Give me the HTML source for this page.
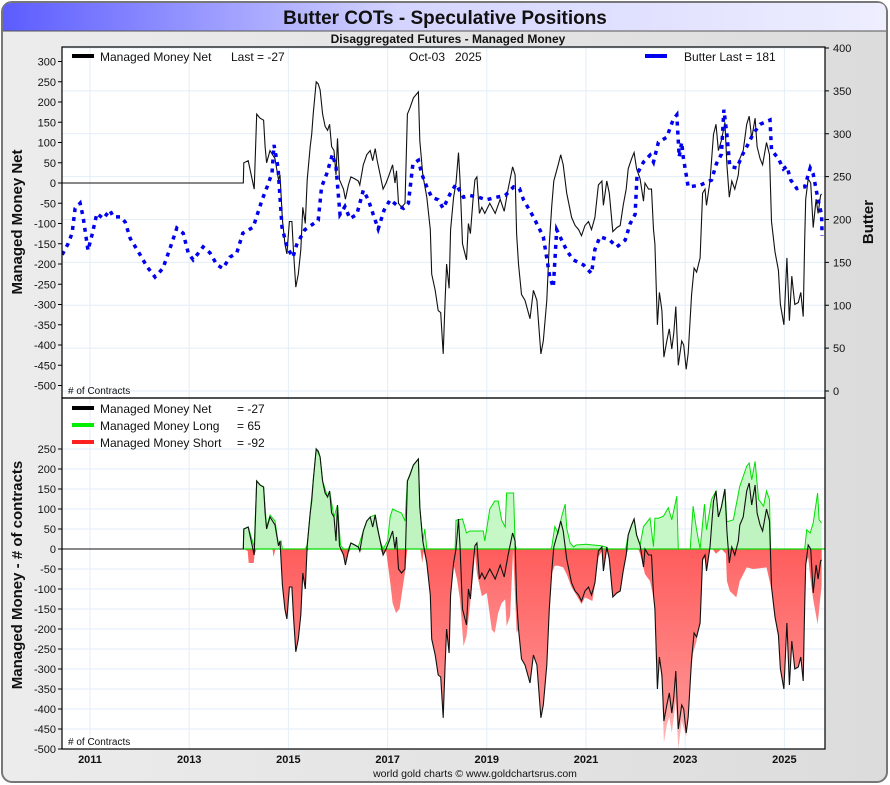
<!DOCTYPE html>
<html><head><meta charset="utf-8">
<style>
html,body{margin:0;padding:0;background:#fff;}
svg{display:block;font-family:"Liberation Sans",sans-serif;}
</style></head>
<body>
<svg id="chart" width="890" height="785" viewBox="0 0 890 785" xmlns="http://www.w3.org/2000/svg">
<defs>
<linearGradient id="frameG" x1="0" x2="1" y1="0" y2="0"><stop offset="0" stop-color="#ececec"/><stop offset="1" stop-color="#dcdcdc"/></linearGradient>
<linearGradient id="titleG" x1="0" x2="1" y1="0" y2="0"><stop offset="0" stop-color="#5c5cff"/><stop offset="0.45" stop-color="#d4d4ff"/><stop offset="1" stop-color="#eeeeff"/></linearGradient>
<linearGradient id="shortG" gradientUnits="userSpaceOnUse" x1="0" x2="0" y1="549" y2="749"><stop offset="0" stop-color="#ff6464"/><stop offset="1" stop-color="#ffb8b8"/></linearGradient>
<linearGradient id="netG" gradientUnits="userSpaceOnUse" x1="0" x2="0" y1="549" y2="749"><stop offset="0" stop-color="#ff5c5c"/><stop offset="1" stop-color="#ff9c9c"/></linearGradient>
<clipPath id="topClip"><rect x="62" y="47" width="763" height="351"/></clipPath>
<clipPath id="botClip"><rect x="62" y="398" width="763" height="351"/></clipPath>
</defs>
<rect x="2" y="2" width="885" height="780" rx="10" fill="url(#frameG)" stroke="#777" stroke-width="2"/>
<path d="M3,31 L3,12 Q3,3 12,3 L878,3 Q886,3 886,12 L886,31 Z" fill="url(#titleG)"/>
<line x1="3" y1="31" x2="886" y2="31" stroke="#555" stroke-width="1"/>
<text x="445" y="24" text-anchor="middle" font-size="19" font-weight="bold" fill="#111">Butter COTs - Speculative Positions</text>
<text x="448" y="43" text-anchor="middle" font-size="12" font-weight="bold" fill="#111">Disaggregated Futures - Managed Money</text>
<rect x="62" y="47" width="763" height="702" fill="#fff"/>
<g id="grid"></g>
<g id="topPanel" clip-path="url(#topClip)"></g>
<g id="botPanel" clip-path="url(#botClip)"></g>
<g id="axes"></g>
<rect x="62" y="47" width="763" height="351" fill="none" stroke="#000" stroke-width="1.2"/>
<rect x="62" y="398" width="763" height="351" fill="none" stroke="#000" stroke-width="1.2"/>
<text transform="translate(22,222) rotate(-90)" text-anchor="middle" font-size="15" font-weight="bold" fill="#111">Managed Money Net</text>
<text transform="translate(873,222) rotate(-90)" text-anchor="middle" font-size="15" font-weight="bold" fill="#111">Butter</text>
<text transform="translate(22,575) rotate(-90)" text-anchor="middle" font-size="15" font-weight="bold" fill="#111">Managed Money - # of contracts</text>
<text x="68" y="394" font-size="10" fill="#111"># of Contracts</text>
<text x="68" y="745" font-size="10" fill="#111"># of Contracts</text>
<text x="475" y="777" text-anchor="middle" font-size="10.5" fill="#111">world gold charts © www.goldchartsrus.com</text>
<g>
<line x1="72" y1="56" x2="94" y2="56" stroke="#000" stroke-width="4"/>
<text x="100" y="61" font-size="12" fill="#111">Managed Money Net</text>
<text x="231" y="61" font-size="12" fill="#111">Last = -27</text>
<text x="409" y="61" font-size="12" fill="#111">Oct-03</text>
<text x="455" y="61" font-size="12" fill="#111">2025</text>
<line x1="645" y1="56" x2="667" y2="56" stroke="#0000ee" stroke-width="4"/>
<text x="684" y="61" font-size="12" fill="#111">Butter Last = 181</text>
</g>
<g>
<line x1="72" y1="408" x2="94" y2="408" stroke="#000" stroke-width="4"/>
<text x="100" y="413" font-size="12" fill="#111">Managed Money Net</text>
<text x="237" y="413" font-size="12" fill="#111">= -27</text>
<line x1="72" y1="425" x2="94" y2="425" stroke="#00ee00" stroke-width="4"/>
<text x="100" y="430" font-size="12" fill="#111">Managed Money Long</text>
<text x="237" y="430" font-size="12" fill="#111">= 65</text>
<line x1="72" y1="442" x2="94" y2="442" stroke="#ff2020" stroke-width="4"/>
<text x="100" y="447" font-size="12" fill="#111">Managed Money Short</text>
<text x="237" y="447" font-size="12" fill="#111">= -92</text>
</g>
</svg>
<script>
// ---- data ----
const yearTicks = [2011,2013,2015,2017,2019,2021,2023,2025];
const leftTicksTop = [300,250,200,150,100,50,0,-50,-100,-150,-200,-250,-300,-350,-400,-450,-500];
const rightTicks = [400,350,300,250,200,150,100,50,0];
const leftTicksBot = [250,200,150,100,50,0,-50,-100,-150,-200,-250,-300,-350,-400,-450,-500];
const netDates = [2010.44,2014.09,2014.10,2014.19,2014.31,2014.36,2014.43,2014.50,2014.53,2014.56,2014.63,2014.73,2014.80,2014.83,2014.88,2014.93,2014.97,2015.02,2015.07,2015.10,2015.15,2015.20,2015.25,2015.29,2015.34,2015.38,2015.44,2015.47,2015.50,2015.56,2015.60,2015.64,2015.69,2015.74,2015.79,2015.83,2015.87,2015.92,2015.96,2015.99,2016.03,2016.11,2016.15,2016.21,2016.26,2016.34,2016.41,2016.44,2016.51,2016.58,2016.65,2016.70,2016.75,2016.79,2016.85,2016.91,2016.97,2017.03,2017.10,2017.15,2017.18,2017.22,2017.28,2017.35,2017.40,2017.45,2017.52,2017.62,2017.65,2017.71,2017.79,2017.86,2017.89,2017.96,2018.02,2018.07,2018.12,2018.16,2018.19,2018.24,2018.27,2018.33,2018.38,2018.43,2018.46,2018.51,2018.56,2018.59,2018.63,2018.67,2018.72,2018.76,2018.80,2018.85,2018.90,2018.96,2019.06,2019.17,2019.27,2019.35,2019.43,2019.52,2019.57,2019.60,2019.64,2019.70,2019.77,2019.87,2019.94,2020.01,2020.09,2020.14,2020.21,2020.26,2020.31,2020.35,2020.44,2020.49,2020.54,2020.61,2020.71,2020.78,2020.85,2020.91,2020.98,2021.05,2021.11,2021.18,2021.25,2021.32,2021.35,2021.42,2021.47,2021.54,2021.62,2021.69,2021.75,2021.81,2021.85,2021.92,2021.97,2022.02,2022.09,2022.16,2022.19,2022.26,2022.32,2022.36,2022.39,2022.44,2022.48,2022.53,2022.57,2022.63,2022.68,2022.73,2022.77,2022.81,2022.86,2022.93,2022.97,2023.02,2023.06,2023.13,2023.18,2023.23,2023.30,2023.35,2023.40,2023.43,2023.50,2023.57,2023.62,2023.67,2023.73,2023.80,2023.84,2023.89,2023.94,2024.00,2024.07,2024.10,2024.17,2024.24,2024.29,2024.34,2024.41,2024.45,2024.51,2024.56,2024.64,2024.70,2024.74,2024.81,2024.88,2024.92,2024.99,2025.05,2025.10,2025.15,2025.21,2025.28,2025.33,2025.38,2025.41,2025.43,2025.48,2025.53,2025.58,2025.64,2025.68,2025.73,2025.75];
const netValues = [0,0,50,55,-15,170,160,155,90,50,80,60,8,20,-90,-150,-175,-95,-95,-165,-257,-225,-165,-60,-100,8,90,120,170,250,245,230,170,140,130,145,90,80,20,110,8,-15,-40,-5,15,10,5,-5,45,70,80,55,85,55,20,-15,0,20,45,0,30,-50,-60,-50,170,185,210,225,105,20,-35,-115,-225,-265,-315,-320,-422,-290,-200,-260,-115,-35,0,75,8,-150,-175,-190,-100,-125,-45,8,15,-75,-60,-75,-50,-75,-40,-70,-15,40,20,-125,-200,-275,-290,-335,-265,-290,-422,-390,-290,-150,-55,5,45,70,45,-25,-85,-105,-115,-130,-105,-95,-115,-85,-5,5,-55,5,-25,-120,-110,-105,-55,-15,35,60,75,35,10,-45,0,-15,-15,-115,-150,-350,-270,-315,-430,-390,-360,-410,-370,-305,-450,-390,-400,-460,-420,-275,-210,-220,-185,-25,-15,-55,5,120,145,80,105,150,45,-35,5,-15,20,60,80,145,165,110,160,90,60,45,100,70,-95,-170,-215,-300,-350,-185,-340,-230,-300,-295,-270,-330,-140,-40,10,0,-110,-40,-75,-30,-27];
const longDates = [2014.09,2014.10,2014.19,2014.31,2014.36,2014.43,2014.50,2014.56,2014.63,2014.73,2014.80,2014.85,2014.88,2015.34,2015.38,2015.44,2015.50,2015.56,2015.64,2015.69,2015.79,2015.83,2015.92,2015.99,2016.05,2016.11,2016.21,2016.26,2016.41,2016.51,2016.58,2016.65,2016.75,2016.85,2016.91,2017.00,2017.05,2017.10,2017.18,2017.28,2017.35,2017.40,2017.52,2017.62,2017.65,2017.71,2017.75,2017.79,2018.36,2018.38,2018.51,2018.59,2018.66,2018.93,2018.96,2019.06,2019.16,2019.23,2019.30,2019.37,2019.40,2019.54,2019.57,2019.60,2020.29,2020.31,2020.37,2020.44,2020.51,2020.58,2020.61,2020.68,2020.75,2020.80,2021.00,2021.15,2021.30,2021.40,2021.45,2021.80,2021.85,2021.92,2021.97,2022.02,2022.09,2022.16,2022.29,2022.36,2022.39,2022.46,2022.56,2022.66,2022.73,2022.83,2022.86,2023.10,2023.16,2023.23,2023.30,2023.39,2023.43,2023.53,2023.62,2023.67,2023.73,2023.80,2023.84,2023.97,2024.10,2024.24,2024.29,2024.34,2024.41,2024.48,2024.58,2024.64,2024.70,2024.72,2025.41,2025.45,2025.52,2025.58,2025.67,2025.70,2025.75];
const longValues = [0,50,55,5,170,160,155,55,85,70,10,20,0,0,10,90,170,250,230,170,130,145,80,110,10,0,0,15,5,45,70,80,85,20,0,20,80,100,95,90,70,170,210,225,105,20,50,0,0,72,75,40,45,45,20,100,120,120,72,55,140,140,10,0,0,6,56,40,82,112,52,15,5,10,12,10,8,5,0,0,35,60,75,35,10,56,77,6,77,77,82,103,73,132,0,0,107,48,0,112,48,124,145,80,105,150,68,73,157,207,215,173,219,124,107,145,124,0,0,48,40,65,140,73,65];
const shortDates = [2014.09,2014.18,2014.20,2014.30,2014.33,2014.68,2014.70,2014.74,2014.85,2014.88,2014.93,2014.97,2015.02,2015.07,2015.10,2015.15,2015.20,2015.25,2015.29,2015.34,2015.38,2015.42,2016.06,2016.11,2016.15,2016.21,2016.26,2016.88,2016.91,2016.97,2017.05,2017.10,2017.17,2017.24,2017.30,2017.36,2017.38,2017.66,2017.70,2017.73,2017.79,2017.86,2017.89,2017.96,2018.02,2018.07,2018.12,2018.16,2018.19,2018.24,2018.27,2018.33,2018.40,2018.46,2018.53,2018.59,2018.66,2018.73,2018.76,2018.80,2018.90,2019.00,2019.10,2019.16,2019.23,2019.30,2019.37,2019.40,2019.47,2019.53,2019.60,2019.64,2019.70,2019.77,2019.87,2019.94,2020.01,2020.09,2020.14,2020.21,2020.26,2020.31,2020.37,2020.44,2020.54,2020.61,2020.71,2020.78,2020.91,2020.98,2021.13,2021.18,2021.25,2021.32,2021.35,2021.42,2021.47,2021.54,2021.62,2021.69,2021.75,2021.81,2021.85,2022.05,2022.09,2022.19,2022.29,2022.36,2022.39,2022.44,2022.48,2022.53,2022.57,2022.63,2022.68,2022.73,2022.77,2022.81,2022.86,2022.93,2023.02,2023.09,2023.16,2023.23,2023.30,2023.35,2023.40,2023.48,2023.55,2023.62,2023.73,2023.82,2023.84,2023.90,2024.03,2024.10,2024.24,2024.37,2024.64,2024.72,2024.74,2024.81,2024.88,2024.92,2024.99,2025.05,2025.10,2025.15,2025.21,2025.28,2025.33,2025.38,2025.41,2025.43,2025.48,2025.53,2025.58,2025.67,2025.75];
const shortValues = [0,-5,-35,-35,0,0,-20,0,0,-90,-150,-175,-95,-95,-165,-257,-225,-165,-60,-100,-5,0,0,-15,-40,-10,0,0,-15,-5,-81,-135,-160,-150,-100,-50,0,0,-35,0,-35,-115,-225,-265,-315,-320,-422,-290,-200,-260,-115,-40,-76,-126,-243,-218,-143,-60,-10,-60,-118,-110,-202,-210,-160,-135,-126,-193,-168,-2,-210,-200,-275,-290,-335,-265,-290,-422,-390,-290,-150,-60,-42,-42,-46,-63,-96,-110,-138,-121,-130,-90,-20,-5,-55,-5,-25,-120,-110,-105,-55,-15,0,0,-12,-63,-80,-120,-160,-350,-280,-330,-485,-440,-420,-460,-420,-380,-500,-430,-470,-343,-260,-230,-143,-30,-21,0,0,-12,0,-12,-80,-105,-121,-80,-46,-50,-46,-90,-100,-170,-215,-300,-350,-185,-340,-230,-300,-295,-270,-330,-140,-40,-20,-80,-126,-188,-92];
const priceDates = [2010.44,2010.56,2010.64,2010.70,2010.80,2010.86,2010.96,2011.04,2011.14,2011.27,2011.40,2011.47,2011.62,2011.71,2011.81,2012.01,2012.15,2012.31,2012.47,2012.61,2012.75,2012.88,2012.98,2013.08,2013.28,2013.42,2013.56,2013.68,2013.82,2013.96,2014.08,2014.29,2014.47,2014.57,2014.67,2014.71,2014.79,2014.87,2014.97,2015.09,2015.17,2015.33,2015.60,2015.67,2015.77,2015.89,2015.96,2016.04,2016.14,2016.24,2016.38,2016.51,2016.61,2016.71,2016.81,2016.93,2017.05,2017.18,2017.32,2017.42,2017.51,2017.62,2017.69,2017.79,2017.89,2018.02,2018.12,2018.26,2018.38,2018.53,2018.66,2018.83,2018.99,2019.20,2019.37,2019.54,2019.66,2019.74,2019.84,2019.94,2020.14,2020.27,2020.34,2020.41,2020.51,2020.61,2020.74,2020.95,2021.11,2021.18,2021.28,2021.48,2021.62,2021.79,2021.89,2021.99,2022.03,2022.16,2022.29,2022.36,2022.46,2022.63,2022.76,2022.83,2022.88,2022.93,2022.96,2023.06,2023.30,2023.53,2023.63,2023.73,2023.78,2023.84,2023.90,2024.04,2024.16,2024.27,2024.37,2024.51,2024.71,2024.74,2024.88,2024.98,2025.05,2025.13,2025.25,2025.41,2025.52,2025.58,2025.68,2025.75,2025.76];
const priceValues = [159,172,184,213,219,203,164,182,207,201,211,203,203,197,178,159,145,133,143,166,190,184,161,153,168,161,147,143,156,161,184,191,223,238,254,287,261,191,168,156,171,188,199,238,253,276,261,206,215,201,206,234,223,206,189,211,223,217,213,219,265,269,253,238,226,223,213,230,241,226,228,226,223,226,228,238,236,223,213,203,180,133,121,188,176,164,153,147,137,165,180,176,168,176,195,206,253,267,275,267,290,296,317,322,273,290,273,238,240,246,265,276,328,299,262,260,276,288,300,311,316,281,271,259,262,246,236,238,260,253,223,205,181];

// ---- scales ----
const X = t => 90 + (t - 2011) * 49.6;
const YL = v => 183 - v * 0.405;
const YR = v => 391 - v * 0.8575;
const YB = v => 549 - v * 0.4;
const NS = 'http://www.w3.org/2000/svg';
function mk(tag, attrs, parent){ const e=document.createElementNS(NS,tag); for(const k in attrs) e.setAttribute(k,attrs[k]); parent.appendChild(e); return e; }
const gridG=document.getElementById('grid'), topG=document.getElementById('topPanel'), botG=document.getElementById('botPanel'), axesG=document.getElementById('axes');

// grid
rightTicks.forEach(v=>{ const l=mk('line',{x1:62,x2:825,y1:YR(v),y2:YR(v),stroke:'#e2eef8','stroke-width':1},gridG);

 });
leftTicksBot.forEach(v=>{ const l=mk('line',{x1:62,x2:825,y1:YB(v),y2:YB(v),stroke:'#e2eef8','stroke-width':1},gridG);

 });
yearTicks.forEach(t=>{ const l=mk('line',{x1:X(t),x2:X(t),y1:47,y2:749,stroke:'#e2eef8','stroke-width':1},gridG);

 });

// axes labels
leftTicksTop.forEach(v=>{ const y=YL(v);
 mk('line',{x1:58,x2:62,y1:y,y2:y,stroke:'#000'},axesG);
 const t=mk('text',{x:56,y:y+4,'text-anchor':'end','font-size':11,fill:'#111'},axesG); t.textContent=v;
 
  });
rightTicks.forEach(v=>{ const y=YR(v);
 mk('line',{x1:825,x2:829,y1:y,y2:y,stroke:'#000'},axesG);
 const t=mk('text',{x:833,y:y+4,'font-size':11,fill:'#111'},axesG); t.textContent=v;
 
  });
leftTicksBot.forEach(v=>{ const y=YB(v);
 mk('line',{x1:58,x2:62,y1:y,y2:y,stroke:'#000'},axesG);
 const t=mk('text',{x:56,y:y+4,'text-anchor':'end','font-size':11,fill:'#111'},axesG); t.textContent=v;
 
  });
yearTicks.forEach(yr=>{ const t=mk('text',{x:X(yr),y:763,'text-anchor':'middle','font-size':11,'font-weight':'bold',fill:'#111'},axesG); t.textContent=yr;
 
  });

function pts(ds,vs,fx,fy){ return ds.map((d,i)=>fx(d).toFixed(1)+','+fy(vs[i]).toFixed(1)); }
function area(ds,vs,fy,fill,name,parent){
 const p=pts(ds,vs,X,fy);
 const d='M'+X(ds[0]).toFixed(1)+','+fy(0)+' L'+p.join(' L')+' L'+X(ds[ds.length-1]).toFixed(1)+','+fy(0)+' Z';
 const e=mk('path',{d:d,fill:fill,stroke:'none'},parent);
 
 
 return e;
}
// top: net line + price
const netLine=mk('polyline',{points:pts(netDates,netValues,X,YL).join(' '),fill:'none',stroke:'#111','stroke-width':1.1},topG);


const priceLine=mk('polyline',{points:pts(priceDates,priceValues,X,YR).join(' '),fill:'none',stroke:'#0000ee','stroke-width':3.5,'stroke-dasharray':'4 5'},topG);



// bottom
const netPos=netValues.map(v=>Math.max(v,0)), netNeg=netValues.map(v=>Math.min(v,0));
area(longDates,longValues,YB,'#c6f7c6','long-area',botG);
area(shortDates,shortValues,YB,'url(#shortG)','short-area',botG);
area(netDates,netNeg,YB,'url(#netG)','net-negative-area',botG);
area(netDates,netPos,YB,'#bff3bf','net-positive-area',botG);
const longLine=mk('polyline',{points:pts(longDates,longValues,X,YB).join(' '),fill:'none',stroke:'#00e000','stroke-width':1},botG);


const zl=mk('line',{x1:X(netDates[1]),x2:825,y1:YB(0),y2:YB(0),stroke:'#00dd00','stroke-width':1.2},botG);


const zl0=mk('line',{x1:62,x2:X(netDates[1]),y1:YB(0),y2:YB(0),stroke:'#111','stroke-width':1.1},botG);


const netLine2=mk('polyline',{points:pts(netDates,netValues,X,YB).join(' '),fill:'none',stroke:'#111','stroke-width':1.1},botG);


</script>
</body></html>
